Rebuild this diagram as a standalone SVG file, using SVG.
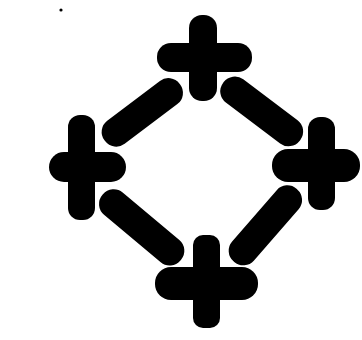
<svg xmlns="http://www.w3.org/2000/svg" width="362" height="340" viewBox="0 0 362 340">
<style>.b{fill:#000}</style>
<rect width="362" height="340" fill="#fff"/>
<circle class="b" cx="61" cy="10" r="1.6"/>
<g id="cross-top">
<rect class="b" x="189" y="15" width="28" height="86" rx="13"/>
<rect class="b" x="157" y="43" width="95" height="29" rx="14"/>
</g>
<g id="cross-left">
<rect class="b" x="68" y="115" width="27" height="105" rx="12"/>
<rect class="b" x="49" y="152" width="77" height="30" rx="15"/>
</g>
<g id="cross-right">
<rect class="b" x="308" y="117" width="27" height="93" rx="12"/>
<rect class="b" x="272" y="149" width="88" height="33" rx="16"/>
</g>
<g id="cross-bottom">
<rect class="b" x="193" y="235" width="27" height="93" rx="10"/>
<rect class="b" x="155" y="267" width="103" height="33" rx="16"/>
</g>
<g id="connectors">
<rect class="b" x="95" y="98" width="94" height="29" rx="14" transform="rotate(-37 142 112)"/>
<rect class="b" x="214" y="97" width="96" height="29" rx="14" transform="rotate(37 262 111)"/>
<rect class="b" x="91" y="213" width="102" height="29" rx="14" transform="rotate(40 142 227)"/>
<rect class="b" x="217" y="211" width="96" height="29" rx="14" transform="rotate(-49 265 225)"/>
</g>
</svg>
